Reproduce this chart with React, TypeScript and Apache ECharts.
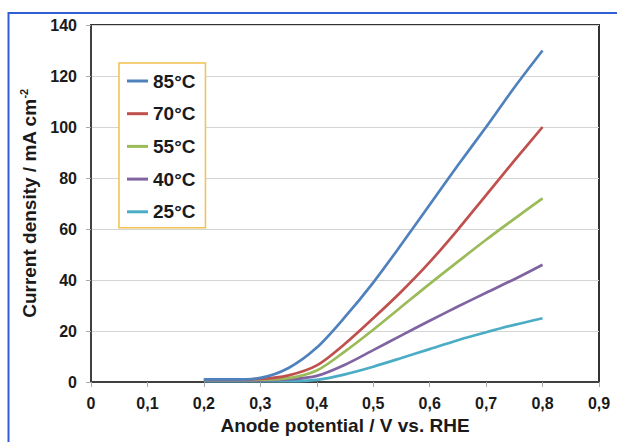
import React, { useEffect, useRef } from "react";
import * as echarts from "echarts";

const potentials = [0.2, 0.25, 0.3, 0.35, 0.4, 0.45, 0.5, 0.55, 0.6, 0.65, 0.7, 0.75, 0.8];
const temps = ["85°C", "70°C", "55°C", "40°C", "25°C"];
const current85 = [1, 1, 1.6, 5.5, 13.5, 25.5, 39, 54, 69.5, 85, 100, 115.5, 130];
const current70 = [1, 1, 1.2, 2.6, 6.5, 15, 25, 35.5, 47, 59.8, 73.3, 86.8, 100];
const current55 = [0.8, 0.8, 0.9, 1.5, 4.5, 12, 20.5, 29.5, 38.5, 47.2, 55.8, 64, 72];
const current40 = [0.6, 0.6, 0.6, 1, 2.4, 6.8, 12.5, 18.3, 24, 29.6, 35, 40.3, 46];
const current25 = [0.3, 0.3, 0.3, 0.3, 0.8, 3, 6, 9.4, 12.9, 16.4, 19.5, 22.4, 25];
const yTicks = [0, 20, 40, 60, 80, 100, 120, 140];
const xTickLabels = ["0", "0,1", "0,2", "0,3", "0,4", "0,5", "0,6", "0,7", "0,8", "0,9"];
const colors = ["#4F81BD", "#C0504D", "#9BBB59", "#8064A2", "#4BACC6"];

const FONT = "'Liberation Sans', Arial, sans-serif";

export default function App() {
  const ref = useRef<HTMLDivElement>(null);
  useEffect(() => {
    if (!ref.current) return;
    const chart = echarts.init(ref.current, null, { renderer: "svg" });
    const seriesValues = [current85, current70, current55, current40, current25];
    const series = seriesValues.map((vals, i) => ({
      name: temps[i],
      type: "line",
      data: potentials.map((p, j) => [p, vals[j]]),
      smooth: 0.3,
      symbol: "none",
      lineStyle: { color: colors[i], width: 2.7 },
      itemStyle: { color: colors[i] },
      z: 10 - i,
    }));
    chart.setOption({
      animation: false,
      backgroundColor: "#ffffff",
      graphic: [
        {
          type: "rect",
          shape: { x: 8.5, y: 13, width: 700, height: 500 },
          style: { fill: "none", stroke: "#2f5fd6", lineWidth: 2 },
          z: 0,
        },
      ],
      grid: {
        left: 91,
        top: 25,
        right: 18,
        bottom: 60,
        show: true,
        borderColor: "#333333",
        borderWidth: 2,
        backgroundColor: "transparent",
      },
      legend: {
        orient: "vertical",
        left: 119,
        top: 63,
        data: temps,
        icon: "rect",
        itemWidth: 21,
        itemHeight: 3,
        itemGap: 12.7,
        padding: [8, 10, 6, 8],
        borderColor: "#F2C14E",
        borderWidth: 1.5,
        backgroundColor: "#ffffff",
        textStyle: {
          fontFamily: FONT,
          fontWeight: "bold",
          fontSize: 19,
          color: "#1a1a1a",
          lineHeight: 20,
        },
      },
      xAxis: {
        type: "value",
        min: 0,
        max: 0.9,
        interval: 0.1,
        name: "Anode potential / V vs. RHE",
        nameLocation: "middle",
        nameGap: 34,
        nameTextStyle: {
          fontFamily: FONT,
          fontWeight: "bold",
          fontSize: 19,
          color: "#1a1a1a",
        },
        axisLine: { show: true, lineStyle: { color: "#404040", width: 2 } },
        axisTick: { show: true, inside: false, length: 5, lineStyle: { color: "#aaaaaa" } },
        splitLine: { show: false },
        axisLabel: {
          margin: 13,
          fontFamily: FONT,
          fontWeight: "bold",
          fontSize: 16,
          color: "#1a1a1a",
          formatter: (v: number) => xTickLabels[Math.round(v * 10)] ?? "",
        },
      },
      yAxis: {
        type: "value",
        min: yTicks[0],
        max: yTicks[yTicks.length - 1],
        interval: 20,
        name: "{a|Current density / mA cm}{b|-2}",
        nameLocation: "middle",
        nameRotate: 90,
        nameGap: 45,
        nameTextStyle: {
          rich: {
            a: { fontFamily: FONT, fontWeight: "bold", fontSize: 19, color: "#1a1a1a", lineHeight: 22 },
            b: { fontFamily: FONT, fontWeight: "bold", fontSize: 11, color: "#1a1a1a", verticalAlign: "top", lineHeight: 22 },
          },
        },
        axisLine: { show: true, lineStyle: { color: "#404040", width: 2 } },
        axisTick: { show: true, inside: false, length: 5, lineStyle: { color: "#aaaaaa" } },
        splitLine: { show: true, lineStyle: { color: "#d4d4d4", width: 1 } },
        axisLabel: {
          margin: 14,
          fontFamily: FONT,
          fontWeight: "bold",
          fontSize: 16,
          color: "#1a1a1a",
        },
      },
      series,
    });
    return () => chart.dispose();
  }, []);
  return (
    <div
      ref={ref}
      style={{ position: "absolute", left: 0, top: 0, width: 617, height: 442 }}
    />
  );
}
